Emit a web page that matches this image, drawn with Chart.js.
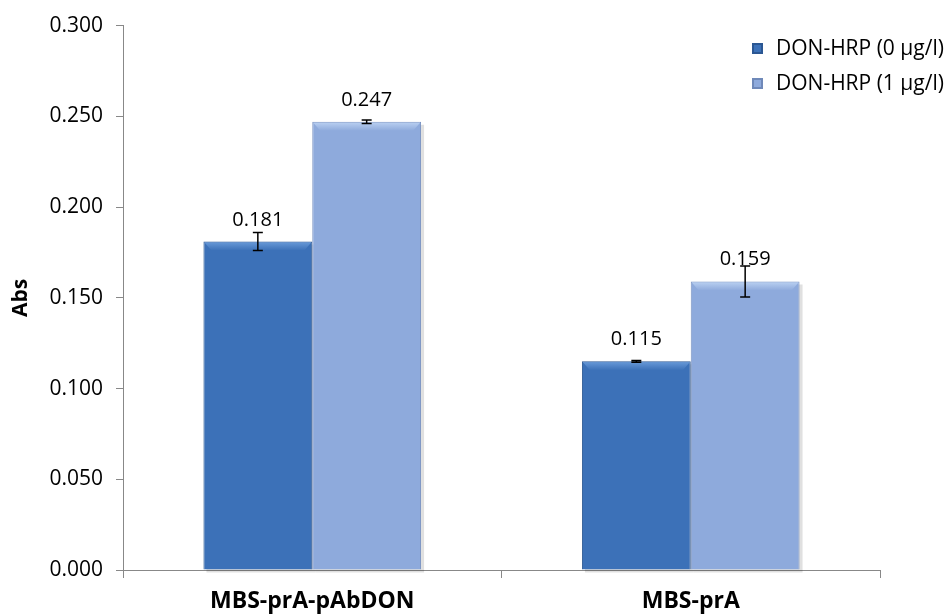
<!DOCTYPE html>
<html>
<head>
<meta charset="utf-8">
<script src="https://cdn.jsdelivr.net/npm/chart.js@4.4.1/dist/chart.umd.min.js"></script>
<style>
html,body{margin:0;padding:0;background:#fff;}
#wrap{width:949px;height:615px;position:relative;}
</style>
</head>
<body>
<div id="wrap"><canvas id="c" width="949" height="615"></canvas></div>
<script>
const categories = ["MBS-prA-pAbDON", "MBS-prA"];
const seriesNames = ["DON-HRP (0 µg/l)", "DON-HRP (1 µg/l)"];
const values0 = [0.181, 0.115];
const values1 = [0.247, 0.159];
const errors0 = [0.005, 0.0005];
const errors1 = [0.001, 0.0085];
const yTicks = [0, 0.05, 0.10, 0.15, 0.20, 0.25, 0.30];

const FONT = "'Open Sans', 'DejaVu Sans', sans-serif";
const STYLE = [
  { edge: '#2b5793', mid: '#3c71b8', top: '#6a9bd9' },
  { edge: '#6f89b9', mid: '#8eaadc', top: '#bcd2f2' }
];

function barGradient(ctx, s) {
  const el = ctx.element;
  const chart = ctx.chart;
  if (!el || !chart.chartArea) return s.mid;
  const w = el.width;
  if (!Number.isFinite(el.x) || !Number.isFinite(w) || w <= 0) return s.mid;
  const x0 = el.x - w / 2, x1 = el.x + w / 2;
  const g = chart.ctx.createLinearGradient(x0, 0, x1, 0);
  g.addColorStop(0, s.edge);
  g.addColorStop(0.07, s.mid);
  g.addColorStop(0.93, s.mid);
  g.addColorStop(1, s.edge);
  return g;
}

const shadowPlugin = {
  id: 'shadow',
  beforeDatasetsDraw(chart) {
    const c = chart.ctx;
    c.save();
    chart.data.datasets.forEach((ds, di) => {
      chart.getDatasetMeta(di).data.forEach(bar => {
        const w = bar.width;
        c.fillStyle = 'rgba(0,0,0,0.12)';
        c.fillRect(bar.x - w / 2 + 3, bar.y + 3, w, bar.base - bar.y);
      });
    });
    c.restore();
  }
};

const bevelPlugin = {
  id: 'bevel',
  afterDatasetsDraw(chart) {
    const c = chart.ctx;
    c.save();
    chart.data.datasets.forEach((ds, di) => {
      const s = STYLE[di];
      chart.getDatasetMeta(di).data.forEach(bar => {
        const w = bar.width, x0 = bar.x - w / 2, x1 = bar.x + w / 2, yt = bar.y;
        const g = c.createLinearGradient(0, yt, 0, yt + 9);
        g.addColorStop(0, s.top);
        g.addColorStop(1, s.mid);
        c.fillStyle = g;
        c.beginPath();
        c.moveTo(x0 + 1, yt + 1);
        c.lineTo(x1 - 1, yt + 1);
        c.lineTo(x1 - 8, yt + 9);
        c.lineTo(x0 + 8, yt + 9);
        c.closePath();
        c.fill();
      });
    });
    c.restore();
  }
};

const errorPlugin = {
  id: 'errs',
  afterDatasetsDraw(chart) {
    const c = chart.ctx;
    const y = chart.scales.y;
    const errs = [errors0, errors1];
    c.save();
    c.strokeStyle = '#000';
    c.lineWidth = 1.5;
    chart.data.datasets.forEach((ds, di) => {
      const meta = chart.getDatasetMeta(di);
      meta.data.forEach((bar, i) => {
        const v = ds.data[i], e = errs[di][i];
        const yt = y.getPixelForValue(v + e), yb = y.getPixelForValue(v - e);
        const x = bar.x;
        c.beginPath();
        c.moveTo(x, yt); c.lineTo(x, yb);
        c.moveTo(x - 5, yt); c.lineTo(x + 5, yt);
        c.moveTo(x - 5, yb); c.lineTo(x + 5, yb);
        c.stroke();
        c.fillStyle = '#000';
        c.font = "20px " + FONT;
        c.textAlign = 'center';
        c.textBaseline = 'alphabetic';
        c.fillText(v.toFixed(3), x, y.getPixelForValue(v) - 16);
      });
    });
    c.restore();
  }
};

const legendPlugin = {
  id: 'customLegend',
  afterDraw(chart) {
    const c = chart.ctx;
    c.save();
    seriesNames.forEach((name, i) => {
      const s = STYLE[i];
      const yc = 48 + i * 35;
      const x = 752;
      c.fillStyle = s.edge;
      c.fillRect(x, yc - 5, 11, 11);
      c.fillStyle = s.mid;
      c.fillRect(x + 2, yc - 3, 7, 7);
      c.fillStyle = '#000';
      c.font = "21px " + FONT;
      c.textAlign = 'left';
      c.textBaseline = 'middle';
      c.fillText(name, 776, yc + 1);
    });
    c.restore();
  }
};

new Chart(document.getElementById('c'), {
  type: 'bar',
  data: {
    labels: categories,
    datasets: [
      {
        label: seriesNames[0],
        data: values0,
        backgroundColor: ctx => barGradient(ctx, STYLE[0]),
        borderColor: '#2e5a94',
        borderWidth: 1,
        categoryPercentage: 0.575,
        barPercentage: 1.0
      },
      {
        label: seriesNames[1],
        data: values1,
        backgroundColor: ctx => barGradient(ctx, STYLE[1]),
        borderColor: '#7a93c2',
        borderWidth: 1,
        categoryPercentage: 0.575,
        barPercentage: 1.0
      }
    ]
  },
  options: {
    responsive: false,
    animation: false,
    layout: { padding: { left: 0, right: 69, top: 21, bottom: 0 } },
    plugins: { legend: { display: false }, tooltip: { enabled: false } },
    scales: {
      x: {
        grid: { drawOnChartArea: false, offset: true, tickLength: 8, color: '#888' },
        border: { color: '#888', width: 1 },
        ticks: { color: '#000', font: { family: FONT, size: 23, weight: 'bold' }, padding: 10 },
        afterFit: s => { s.height = 45; }
      },
      y: {
        min: 0, max: 0.3,
        afterBuildTicks: axis => { axis.ticks = yTicks.map(v => ({ value: v })); },
        grid: { drawOnChartArea: false, tickLength: 7, color: '#888' },
        border: { color: '#888', width: 1 },
        ticks: { color: '#000', font: { family: FONT, size: 21 }, padding: 13, callback: v => Number(v).toFixed(3) },
        title: { display: true, text: 'Abs', color: '#000', font: { family: FONT, size: 21, weight: 'bold' }, padding: { top: 8, bottom: 0 } },
        afterFit: s => { s.width = 123; }
      }
    }
  },
  plugins: [shadowPlugin, bevelPlugin, errorPlugin, legendPlugin]
});
</script>
</body>
</html>
